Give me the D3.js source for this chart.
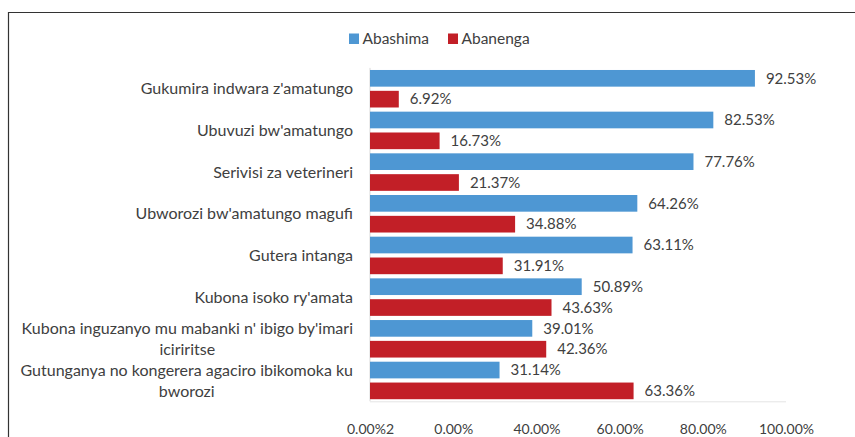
<!DOCTYPE html>
<html lang="rw">
<head>
<meta charset="utf-8">
<title>Abashima / Abanenga</title>
<script src="https://cdn.jsdelivr.net/npm/d3@7"></script>
<style>
  body { margin: 0; background: #fff; }
  #chart text { font-family: Lato, "Open Sans", sans-serif; fill: #404040; }
</style>
</head>
<body>
<div id="chart"></div>
<script>
"use strict"

// ibyiciro (categories) n'amakuru
var ibyiciro = [
  "Gukumira indwara z'amatungo",
  "Ubuvuzi bw'amatungo",
  "Serivisi za veterineri",
  "Ubworozi bw'amatungo magufi",
  "Gutera intanga",
  "Kubona isoko ry'amata",
  "Kubona inguzanyo mu mabanki n' ibigo by'imari|iciriritse",
  "Gutunganya no kongerera agaciro ibikomoka ku|bworozi"
];
var abashima = [92.53, 82.53, 77.76, 64.26, 63.11, 50.89, 39.01, 31.14];
var abanenga = [6.92, 16.73, 21.37, 34.88, 31.91, 43.63, 42.36, 63.36];
var seriesNames = ["Abashima", "Abanenga"];
var tickValues = [0, 20, 40, 60, 80, 100];
var tickLabels = ["0.00%2", "0.00%", "40.00%", "60.00%", "80.00%", "100.00%"];

var colors = { Abashima: "#4e97d3", Abanenga: "#c21f27" };

var W = 855, H = 437;
var svg = d3.select('#chart').append('svg')
  .attr('width', W).attr('height', H);

// frame (only top + left visible)
svg.append('path')
  .attr('d', 'M8.5,' + H + 'V12.5H' + W)
  .attr('fill', 'none').attr('stroke', '#333').attr('stroke-width', 1.2);

var x = d3.scaleLinear().domain([0, 100]).range([370, 786]);
var y = d3.scaleBand().domain(d3.range(ibyiciro.length)).range([67.9, 401.3]);
var ySub = d3.scaleBand().domain(seriesNames).range([0, y.bandwidth()])
  .paddingInner(0.2).paddingOuter(0.1);

var rows = ibyiciro.map(function(c, i) {
  return { i: i, label: c, Abashima: abashima[i], Abanenga: abanenga[i] };
});

// axis lines
svg.append('line').attr('x1', 370).attr('x2', 370)
  .attr('y1', y.range()[0]).attr('y2', y.range()[1])
  .attr('stroke', '#d9d9d9');
svg.append('line').attr('x1', x(0)).attr('x2', x(100))
  .attr('y1', y.range()[1] + 0.5).attr('y2', y.range()[1] + 0.5)
  .attr('stroke', '#e4e4e4');

var g = svg.selectAll('g.row').data(rows).enter().append('g')
  .attr('class', 'row')
  .attr('transform', function(d) { return 'translate(0,' + y(d.i) + ')'; });

seriesNames.forEach(function(s) {
  g.append('rect')
    .attr('x', x(0))
    .attr('y', ySub(s))
    .attr('width', function(d) { return x(d[s]) - x(0); })
    .attr('height', ySub.bandwidth())
    .attr('fill', colors[s]);
  g.append('text')
    .attr('x', function(d) { return x(d[s]) + 11; })
    .attr('y', ySub(s) + ySub.bandwidth() / 2)
    .attr('dy', '0.35em')
    .style('font-size', '15px')
    .text(function(d) { return d[s].toFixed(2) + '%'; });
});

// category labels (wrapped lines centred, block right-aligned)
g.each(function(d) {
  var lines = d.label.split('|');
  var lh = 21;
  var cy = y.bandwidth() / 2;
  var t = d3.select(this).append('text')
    .style('font-size', '16px')
    .attr('text-anchor', lines.length > 1 ? 'middle' : 'end');
  lines.forEach(function(l, k) {
    t.append('tspan')
      .attr('x', 353)
      .attr('y', cy + (k - (lines.length - 1) / 2) * lh)
      .attr('dy', '0.35em')
      .text(l);
  });
  if (lines.length > 1) {
    var w = t.node().getBBox().width;
    t.selectAll('tspan').attr('x', 353 - w / 2);
  }
});

// x axis tick labels
var ax = svg.append('g')
  .attr('transform', 'translate(0,' + 420 + ')')
  .call(d3.axisBottom(x).tickValues(tickValues).tickSize(0).tickPadding(0)
    .tickFormat(function(d, i) { return tickLabels[i]; }));
ax.select('.domain').remove();
ax.selectAll('text').style('font-size', '14px').attr('dy', '0.35em').attr('y', 9.5);

// legend
var legX = d3.scaleOrdinal().domain(seriesNames).range([349, 448]);
var leg = svg.selectAll('g.leg').data(seriesNames).enter().append('g')
  .attr('class', 'leg')
  .attr('transform', function(s) { return 'translate(' + legX(s) + ',33.5)'; });
leg.append('rect').attr('width', 10).attr('height', 10.5)
  .attr('fill', function(s) { return colors[s]; });
leg.append('text').attr('x', 13.5).attr('y', 5.5).attr('dy', '0.35em')
  .style('font-size', '15.5px')
  .text(function(s) { return s; });
</script>
</body>
</html>
